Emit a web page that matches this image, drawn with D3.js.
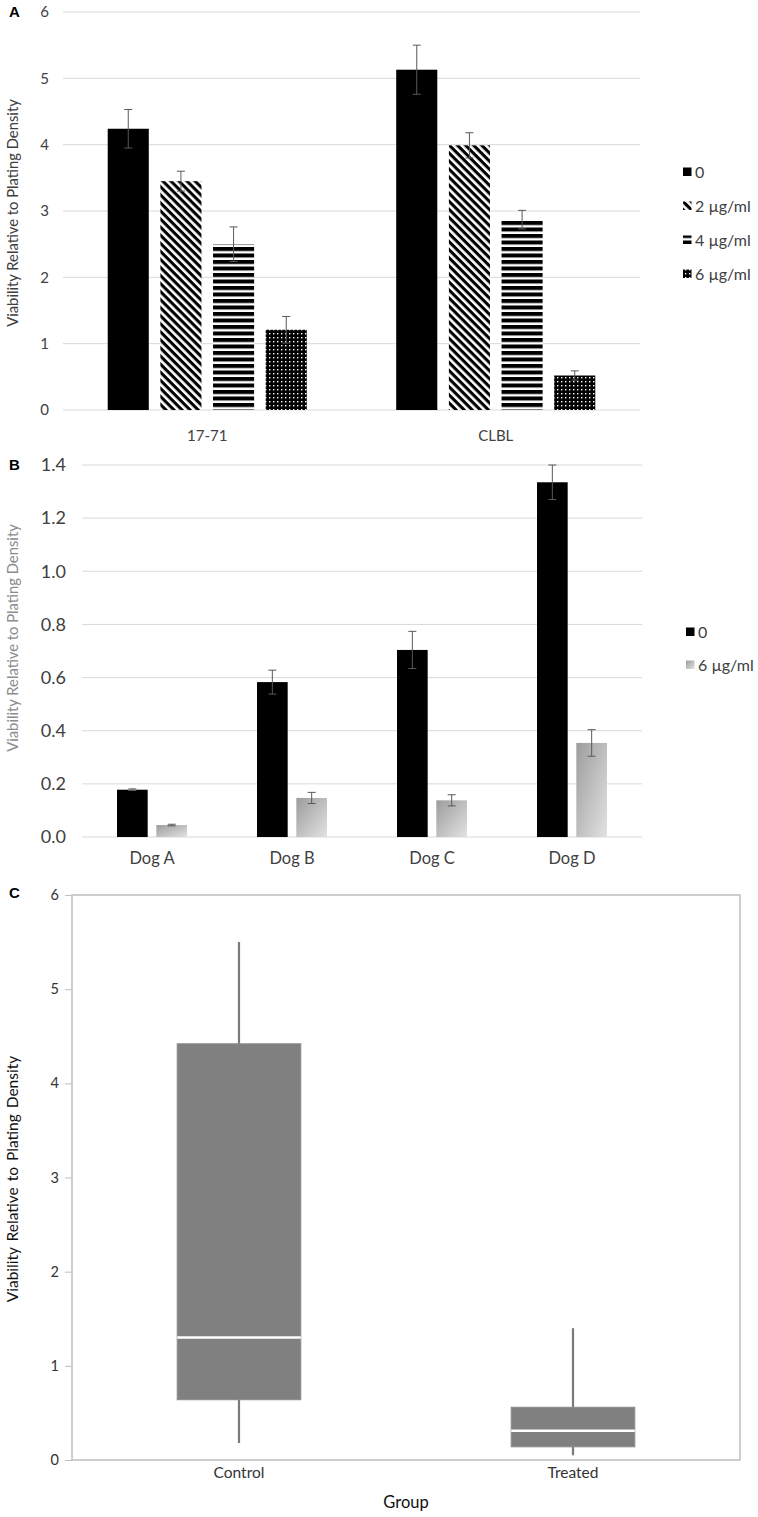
<!DOCTYPE html>
<html>
<head>
<meta charset="utf-8">
<script src="https://cdn.jsdelivr.net/npm/d3@7/dist/d3.min.js"></script>
<style>
  html, body { margin: 0; padding: 0; background: #fff; }
  svg { display: block; font-family: Lato, "Open Sans", sans-serif; }
</style>
</head>
<body>
<svg id="fig" width="758" height="1517"></svg>
<script>
// --- panel A: two cell lines, four doses
const A_LINES = ["17-71", "CLBL"];
const A_DOSES = ["0", "2 µg/ml", "4 µg/ml", "6 µg/ml"];
const A_MEAN = [[4.24, 3.45, 2.50, 1.21], [5.13, 3.99, 2.87, 0.52]];
const A_ERR  = [[0.29, 0.15, 0.26, 0.20], [0.37, 0.19, 0.14, 0.07]];
const A_TICKS = [0, 1, 2, 3, 4, 5, 6];

// --- panel B: four dogs, two doses
const B_DOGS = ["Dog A", "Dog B", "Dog C", "Dog D"];
const B_DOSES = ["0", "6 µg/ml"];
const B_MEAN = [[0.178, 0.045], [0.583, 0.147], [0.704, 0.138], [1.335, 0.354]];
const B_ERR  = [[0.003, 0.003], [0.045, 0.021], [0.07, 0.021], [0.065, 0.05]];
const B_TICKS = [0, 0.2, 0.4, 0.6, 0.8, 1.0, 1.2, 1.4];

// --- panel C: box plot, control vs treated
const C_GROUPS = ["Control", "Treated"];
const C_LOW = [0.18, 0.05], C_Q1 = [0.64, 0.14], C_MED = [1.30, 0.31],
      C_Q3 = [4.42, 0.56], C_HIGH = [5.50, 1.40];
const C_TICKS = [0, 1, 2, 3, 4, 5, 6];

const YLABEL = "Viability Relative to Plating Density";
const svg = d3.select("#fig");
const defs = svg.append("defs");

// fills for panel A
const diag = defs.append("pattern").attr("id", "diag").attr("patternUnits", "userSpaceOnUse")
  .attr("width", 5.7).attr("height", 5.7).attr("patternTransform", "rotate(45)");
diag.append("rect").attr("width", 5.7).attr("height", 5.7).attr("fill", "#fff");
diag.append("rect").attr("width", 5.7).attr("height", 3.1).attr("fill", "#000");
const horiz = defs.append("pattern").attr("id", "horiz").attr("patternUnits", "userSpaceOnUse")
  .attr("width", 6).attr("height", 6.5);
horiz.append("rect").attr("width", 6).attr("height", 6.5).attr("fill", "#fff");
horiz.append("rect").attr("width", 6).attr("height", 4).attr("fill", "#000");
const dots = defs.append("pattern").attr("id", "dots").attr("patternUnits", "userSpaceOnUse")
  .attr("width", 4).attr("height", 4);
dots.append("rect").attr("width", 4).attr("height", 4).attr("fill", "#000");
dots.append("rect").attr("x", 1).attr("y", 1).attr("width", 1.4).attr("height", 1.4).attr("fill", "#fff");
const grad = defs.append("linearGradient").attr("id", "grayg")
  .attr("x1", 0).attr("y1", 0).attr("x2", 1).attr("y2", 1);
grad.append("stop").attr("offset", 0).attr("stop-color", "#9c9c9c");
grad.append("stop").attr("offset", 1).attr("stop-color", "#e2e2e2");

const A_FILL = ["#000", "url(#diag)", "url(#horiz)", "url(#dots)"];
const B_FILL = ["#000", "url(#grayg)"];

function panelLetter(t, y) {
  svg.append("text").attr("x", 9).attr("y", y).attr("font-family", "Arial, Liberation Sans, sans-serif")
    .attr("font-weight", "bold").attr("font-size", 15).attr("fill", "#000").text(t);
}

function yTitle(x, y, size, color, spacing) {
  svg.append("text").attr("transform", `translate(${x},${y}) rotate(-90)`)
    .attr("text-anchor", "middle").attr("font-size", size).attr("fill", color)
    .attr("word-spacing", spacing || 0).text(YLABEL);
}

function grouped(cfg) {
  const { cats, series, mean, err, ticks, fills, x0, x1, yBot, yTop, inner, fmt,
          tickSize, catSize, catY, legX, legY, legStep } = cfg;
  const y = d3.scaleLinear([ticks[0], ticks[ticks.length - 1]], [yBot, yTop]);
  const xb = d3.scaleBand(cats, [x0, x1]);
  const xi = d3.scaleBand(series, [0, xb.bandwidth() * inner]).paddingInner(cfg.gap);
  const off = xb.bandwidth() * (1 - inner) / 2;
  const g = svg.append("g");
  // gridlines + tick labels
  g.append("g").selectAll("line").data(ticks).join("line")
    .attr("x1", x0).attr("x2", x1).attr("y1", d => y(d)).attr("y2", d => y(d))
    .attr("stroke", "#d9d9d9").attr("stroke-width", 1);
  g.append("g").selectAll("text").data(ticks).join("text")
    .attr("x", cfg.tickX).attr("y", d => y(d)).attr("dy", "0.35em").attr("text-anchor", "end")
    .attr("font-size", tickSize).attr("fill", "#404040").text(fmt);
  // bars
  cats.forEach((c, i) => {
    const gx = xb(c) + off;
    series.forEach((s, j) => {
      const bx = gx + xi(s), bw = xi.bandwidth(), v = mean[i][j], e = err[i][j];
      g.append("rect").attr("x", bx).attr("y", y(v)).attr("width", bw)
        .attr("height", y(0) - y(v)).attr("fill", fills[j]);
      const cx = bx + bw / 2;
      const eb = g.append("g").attr("stroke", "#595959").attr("stroke-width", 1);
      eb.append("line").attr("x1", cx).attr("x2", cx).attr("y1", y(v + e)).attr("y2", y(v - e));
      [v + e, v - e].forEach(t => eb.append("line").attr("x1", cx - 4).attr("x2", cx + 4)
        .attr("y1", y(t)).attr("y2", y(t)));
    });
    g.append("text").attr("x", xb(c) + xb.bandwidth() / 2).attr("y", catY)
      .attr("text-anchor", "middle").attr("font-size", catSize).attr("fill", "#404040").text(c);
  });
  // legend
  series.forEach((s, j) => {
    const ly = legY + j * legStep;
    g.append("rect").attr("x", legX).attr("y", ly - 4.5).attr("width", 8.5).attr("height", 8.5)
      .attr("fill", fills[j]);
    g.append("text").attr("x", legX + 12).attr("y", ly).attr("dy", "0.35em")
      .attr("font-size", cfg.legSize).attr("fill", "#404040").text(s);
  });
}

// Panel A
panelLetter("A", 17);
yTitle(18, 213, 14.8, "#404040");
grouped({
  cats: A_LINES, series: A_DOSES, mean: A_MEAN, err: A_ERR, ticks: A_TICKS, fills: A_FILL,
  x0: 63, x1: 640, yBot: 410, yTop: 12, inner: 0.69, gap: 0.22, fmt: d => d,
  tickX: 49, tickSize: 15, catSize: 15, catY: 441,
  legX: 683, legY: 172, legStep: 34, legSize: 16
});

// Panel B
panelLetter("B", 470);
yTitle(18, 638, 14.8, "#8c8c8c");
grouped({
  cats: B_DOGS, series: B_DOSES, mean: B_MEAN, err: B_ERR, ticks: B_TICKS, fills: B_FILL,
  x0: 82, x1: 642, yBot: 837, yTop: 465, inner: 0.5, gap: 0.22, fmt: d3.format(".1f"),
  tickX: 66, tickSize: 18, catSize: 16.5, catY: 864,
  legX: 686, legY: 632, legStep: 33, legSize: 16
});

// Panel C: box plot
panelLetter("C", 898);
(function () {
  const x0 = 72, x1 = 740, yBot = 1460, yTop = 895;
  const y = d3.scaleLinear([0, 6], [yBot, yTop]);
  const xb = d3.scaleBand(C_GROUPS, [x0, x1]);
  const g = svg.append("g");
  g.append("rect").attr("x", x0).attr("y", yTop).attr("width", x1 - x0).attr("height", yBot - yTop)
    .attr("fill", "none").attr("stroke", "#bfbfbf").attr("stroke-width", 1.5);
  g.append("g").attr("transform", `translate(${x0},0)`)
    .call(d3.axisLeft(y).tickValues(C_TICKS).tickFormat(d3.format("d")).tickSize(7).tickPadding(6))
    .call(a => a.select(".domain").remove())
    .call(a => a.selectAll("line").attr("stroke", "#bfbfbf"))
    .call(a => a.selectAll("text").attr("font-size", 14.5).attr("fill", "#333")
      .attr("font-family", "Lato, 'Open Sans', sans-serif"));
  const bw = xb.bandwidth() * 0.37;
  C_GROUPS.forEach((c, i) => {
    const cx = xb(c) + xb.bandwidth() / 2;
    g.append("line").attr("x1", cx).attr("x2", cx).attr("y1", y(C_HIGH[i])).attr("y2", y(C_LOW[i]))
      .attr("stroke", "#7a7a7a").attr("stroke-width", 2.2);
    g.append("rect").attr("x", cx - bw / 2).attr("y", y(C_Q3[i])).attr("width", bw)
      .attr("height", y(C_Q1[i]) - y(C_Q3[i])).attr("fill", "#808080")
      .attr("stroke", "#8a8a8a").attr("stroke-width", 1);
    g.append("line").attr("x1", cx - bw / 2).attr("x2", cx + bw / 2)
      .attr("y1", y(C_MED[i])).attr("y2", y(C_MED[i])).attr("stroke", "#fff").attr("stroke-width", 2.5);
    g.append("text").attr("x", cx).attr("y", 1478).attr("text-anchor", "middle")
      .attr("font-size", 15.5).attr("fill", "#333").text(c);
  });
  g.append("text").attr("x", (x0 + x1) / 2).attr("y", 1508).attr("text-anchor", "middle")
    .attr("font-size", 16.5).attr("fill", "#111").text("Group");
  yTitle(18, 1179, 15.5, "#111", 2);
})();
</script>
</body>
</html>
